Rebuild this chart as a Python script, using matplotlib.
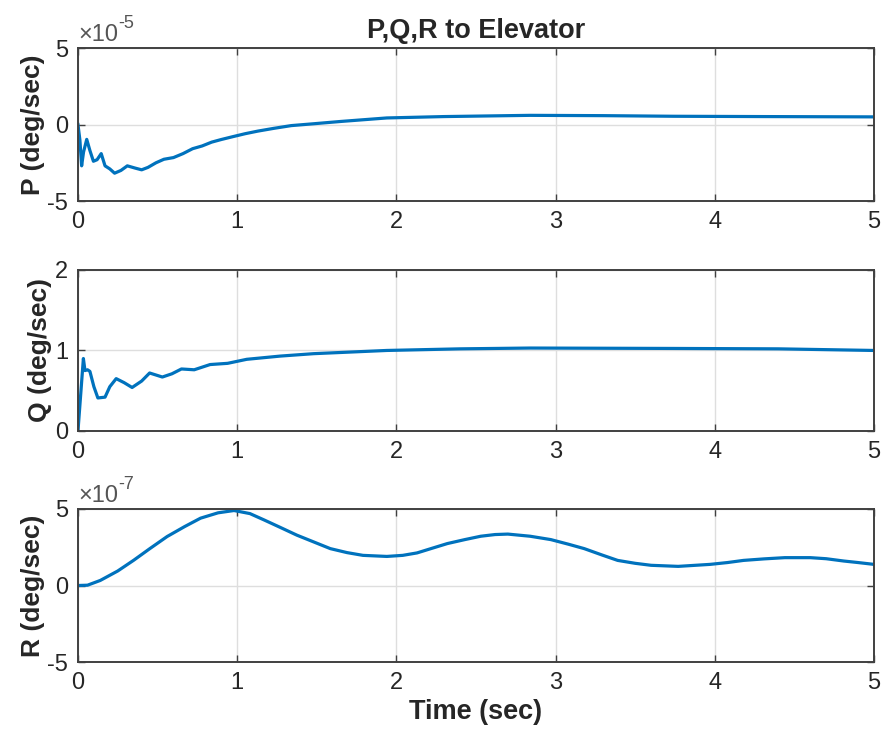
import numpy as np
import matplotlib
matplotlib.use('Agg')
import matplotlib.pyplot as plt
from matplotlib.ticker import FuncFormatter

plt.rcParams['font.family'] = ['Liberation Sans', 'DejaVu Sans']
plt.rcParams['axes.unicode_minus'] = False

# roll rate response (x1e-5 deg/sec)
t_p = [0, 0.012, 0.023, 0.035, 0.055, 0.075, 0.097, 0.12, 0.146, 0.17, 0.2, 0.23,
       0.27, 0.31, 0.36, 0.40, 0.44, 0.49, 0.54, 0.60, 0.66, 0.72, 0.78, 0.84, 0.90,
       0.97, 1.05, 1.13, 1.23, 1.34, 1.48, 1.65, 1.94, 2.3, 2.84, 3.3, 3.74, 4.3, 5.0]
p_vals = [0, -1.0, -2.7, -1.8, -0.97, -1.7, -2.4, -2.3, -1.9, -2.7, -2.9, -3.18,
          -3.0, -2.7, -2.85, -2.96, -2.8, -2.5, -2.27, -2.16, -1.9, -1.58, -1.4, -1.15, -0.98,
          -0.8, -0.6, -0.43, -0.25, -0.07, 0.05, 0.2, 0.43, 0.52, 0.6, 0.58, 0.54, 0.52, 0.5]

# pitch rate response (deg/sec)
t_q = [0, 0.034, 0.044, 0.06, 0.075, 0.1, 0.125, 0.17, 0.2, 0.24, 0.29, 0.34, 0.40,
       0.45, 0.53, 0.59, 0.65, 0.73, 0.83, 0.94, 1.06, 1.27, 1.48, 1.94, 2.4, 2.84,
       3.74, 4.4, 5.0]
q_vals = [0, 0.9, 0.75, 0.76, 0.74, 0.55, 0.41, 0.42, 0.55, 0.65, 0.6, 0.54, 0.62,
          0.72, 0.67, 0.71, 0.77, 0.76, 0.825, 0.84, 0.89, 0.93, 0.96, 1.0, 1.02, 1.03,
          1.025, 1.02, 1.0]

# yaw rate response (x1e-7 deg/sec)
t_r = [0, 0.06, 0.14, 0.25, 0.35, 0.45, 0.56, 0.67, 0.77, 0.88, 0.98, 1.08, 1.17,
       1.27, 1.375, 1.48, 1.585, 1.69, 1.79, 1.94, 2.04, 2.13, 2.22, 2.32, 2.43, 2.53,
       2.62, 2.70, 2.84, 2.97, 3.08, 3.18, 3.29, 3.39, 3.5, 3.6, 3.77, 3.97, 4.08,
       4.18, 4.31, 4.44, 4.6, 4.7, 4.81, 4.9, 5.0]
r_vals = [0, 0.02, 0.33, 0.95, 1.65, 2.4, 3.2, 3.85, 4.4, 4.75, 4.9, 4.7, 4.28,
          3.8, 3.29, 2.85, 2.41, 2.15, 1.97, 1.9, 1.97, 2.13, 2.42, 2.74, 3.0, 3.22,
          3.33, 3.36, 3.22, 3.0, 2.7, 2.41, 2.0, 1.64, 1.45, 1.32, 1.25, 1.38, 1.5,
          1.64, 1.74, 1.82, 1.82, 1.75, 1.6, 1.5, 1.38]

LINE = '#0072BD'
TXT = '#262626'

fig = plt.figure(figsize=(8.83, 7.41), dpi=100)
ax_p = fig.add_axes([0.0883, 0.7287, 0.9015, 0.2065])
ax_q = fig.add_axes([0.0883, 0.4184, 0.9015, 0.2173])
ax_r = fig.add_axes([0.0883, 0.1066, 0.9015, 0.2065])

# (axes, time, values, exponent, y range, label)
panels = [
    (ax_p, t_p, np.array(p_vals) * 1e-5, -5, (-5, 5), 'P (deg/sec)'),
    (ax_q, t_q, np.array(q_vals), 0, (0, 2), 'Q (deg/sec)'),
    (ax_r, t_r, np.array(r_vals) * 1e-7, -7, (-5, 5), 'R (deg/sec)'),
]

for ax, t, y, ex, (lo, hi), lab in panels:
    scale = 10.0 ** ex
    ax.plot(t, y, color=LINE, lw=2.3, solid_joinstyle='round')
    ax.set_xlim(0, 5)
    ax.set_ylim(lo * scale, hi * scale)
    ax.set_xticks([0, 1, 2, 3, 4, 5])
    ax.set_yticks([lo * scale, (lo + hi) / 2 * scale, hi * scale])
    ax.yaxis.set_major_formatter(FuncFormatter(lambda v, pos, s=scale: f'{v / s:g}'))
    ax.grid(True, color='#dedede', lw=1.0)
    ax.set_axisbelow(True)
    for s in ax.spines.values():
        s.set_color('#404040')
        s.set_linewidth(1.4)
    ax.tick_params(direction='in', top=True, right=True, length=5, width=1.0,
                   color='#404040', labelsize=17, labelcolor=TXT, pad=7)
    ax.set_ylabel(lab, fontsize=19, fontweight='bold', color=TXT, labelpad=2)
    if ex:
        base = ax.text(0.0, 1.015, '\u00d710', transform=ax.transAxes,
                       fontsize=17, color='#555555', ha='left', va='bottom')
        ax.annotate(f'{ex}', xy=(1.0, 0.62), xycoords=base, fontsize=13,
                    color='#555555', ha='left', va='bottom')

ax_p.set_title('P,Q,R to Elevator', fontsize=19.5, fontweight='bold', color=TXT, pad=7)
ax_r.set_xlabel('Time (sec)', fontsize=19.5, fontweight='bold', color=TXT, labelpad=4)

fig.savefig('out.png', dpi=100, facecolor='white')
